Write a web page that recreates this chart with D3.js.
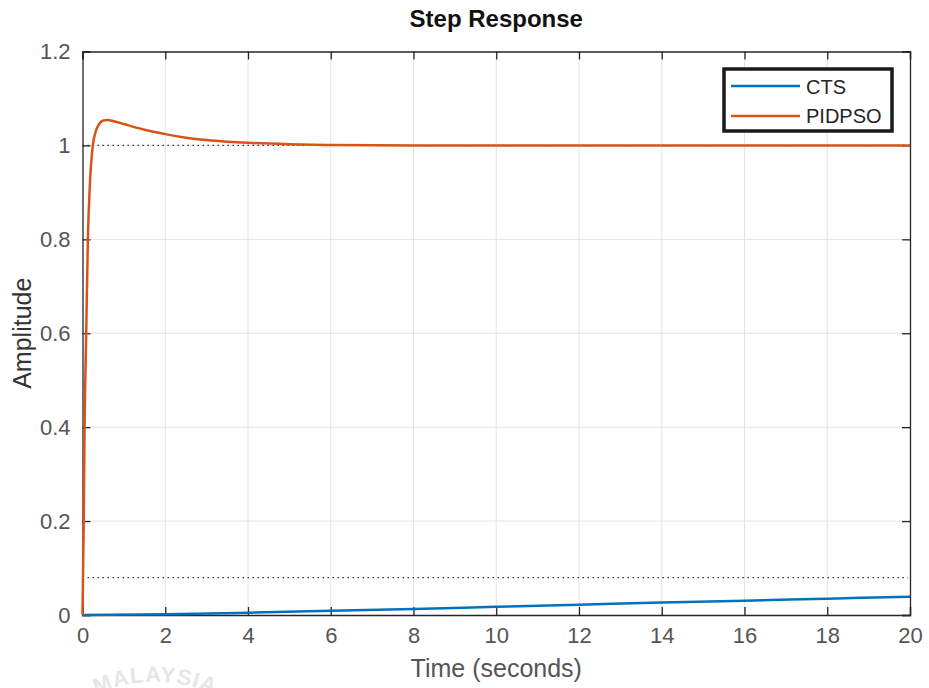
<!DOCTYPE html>
<html>
	<head>
		<title>step_response</title>
		<script type="text/javascript" src="https://cdn.jsdelivr.net/npm/d3@7"></script>
		<style>
			body{margin:0;background:#fff;}
			text{font-family:'Liberation Sans',Arial,sans-serif;}
		</style>
	</head>
	<body>
		<script type="text/javascript">
			// values
			var xTicks=[0,2,4,6,8,10,12,14,16,18,20];
			var yTicks=[0,0.2,0.4,0.6,0.8,1,1.2];
			var yTickLabels=['0','0.2','0.4','0.6','0.8','1','1.2'];

			var ctsTime=[0,2,4,6,8,10,12,14,16,18,20];
			var ctsAmp=[0,0.0015,0.005,0.009,0.013,0.0175,0.022,0.0265,0.0305,0.0348,0.039];
			var ctsFinal=0.0794;

			var pidTime=[0,0.03,0.05,0.09,0.13,0.18,0.25,0.32,0.4,0.5,0.6,0.75,1.0,1.25,1.5,1.75,2.0,2.5,3.0,3.5,4.0,5.0,6.0,8.0,20];
			var pidAmp=[0,0.2,0.4,0.6,0.8,0.92,1.0,1.03,1.045,1.053,1.054,1.0515,1.0455,1.039,1.0335,1.0285,1.024,1.0165,1.0115,1.008,1.0055,1.0025,1.001,1.0,1.0];
			var pidFinal=1;

			var seriesNames=['CTS','PIDPSO'];
			var seriesColors=['#0072BD','#D95319'];

			var w=929;
			var h=688;
			var pLeft=82.5, pRight=910, pTop=51.5, pBottom=615;
			var axisColor='#262626';

			var svg=d3.select('body').append('svg')
					  .attr('width',w)
					  .attr('height',h);

			var xScale=d3.scaleLinear()
						 .domain([0,20])
						 .range([pLeft,pRight]);
			var yScale=d3.scaleLinear()
						 .domain([0,1.2])
						 .range([pBottom,pTop]);

			// grid
			svg.selectAll('line.gx')
			   .data(xTicks.slice(1,-1))
			   .enter()
			   .append('line')
			   .attr('class','gx')
			   .attr('x1',function(d){return xScale(d);})
			   .attr('x2',function(d){return xScale(d);})
			   .attr('y1',pTop).attr('y2',pBottom)
			   .attr('stroke','#e3e3e3').attr('stroke-width',1);
			svg.selectAll('line.gy')
			   .data(yTicks.slice(1,-1))
			   .enter()
			   .append('line')
			   .attr('class','gy')
			   .attr('y1',function(d){return yScale(d);})
			   .attr('y2',function(d){return yScale(d);})
			   .attr('x1',pLeft).attr('x2',pRight)
			   .attr('stroke','#e3e3e3').attr('stroke-width',1);

			// steady state dotted lines
			svg.selectAll('line.ss')
			   .data([pidFinal,ctsFinal])
			   .enter()
			   .append('line')
			   .attr('class','ss')
			   .attr('x1',xScale(0)).attr('x2',xScale(19.95))
			   .attr('y1',function(d){return yScale(d);})
			   .attr('y2',function(d){return yScale(d);})
			   .attr('stroke','#333').attr('stroke-width',1.3)
			   .attr('stroke-dasharray','1.5,3.5');

			// axes with inner ticks on all sides
			var tl=8;
			svg.append('g').attr('transform','translate(0,'+pBottom+')')
			   .call(d3.axisBottom(xScale).tickValues(xTicks).tickSize(-tl).tickFormat(d3.format('d')).tickPadding(12));
			svg.append('g').attr('transform','translate(0,'+pTop+')')
			   .call(d3.axisTop(xScale).tickValues(xTicks).tickSize(-tl).tickFormat(''));
			svg.append('g').attr('transform','translate('+pLeft+',0)')
			   .call(d3.axisLeft(yScale).tickValues(yTicks).tickSize(-tl)
					 .tickFormat(function(d,i){return yTickLabels[i];}).tickPadding(12));
			svg.append('g').attr('transform','translate('+pRight+',0)')
			   .call(d3.axisRight(yScale).tickValues(yTicks).tickSize(-tl).tickFormat(''));

			svg.selectAll('.domain').attr('stroke',axisColor).attr('stroke-width',1.3);
			svg.selectAll('.tick line').attr('stroke',axisColor).attr('stroke-width',1.3);
			svg.selectAll('.tick text')
			   .attr('fill','#555')
			   .attr('font-size','22px')
			   .attr('font-family',"'Liberation Sans',Arial,sans-serif");

			// curves
			var line=d3.line()
					   .x(function(d){return xScale(d[0]);})
					   .y(function(d){return yScale(d[1]);})
					   .curve(d3.curveMonotoneX);

			var ctsData=ctsTime.map(function(t,i){return [t,ctsAmp[i]];});
			var pidData=pidTime.map(function(t,i){return [t,pidAmp[i]];});

			svg.append('path').datum(ctsData)
			   .attr('d',line).attr('fill','none')
			   .attr('stroke',seriesColors[0]).attr('stroke-width',2.5);
			svg.append('path').datum(pidData)
			   .attr('d',line).attr('fill','none')
			   .attr('stroke',seriesColors[1]).attr('stroke-width',2.5);

			// legend
			var lg=svg.append('g');
			lg.append('rect')
			  .attr('x',724).attr('y',69).attr('width',168).attr('height',62)
			  .attr('fill','#fff').attr('stroke','#1a1a1a').attr('stroke-width',3.5);
			lg.selectAll('line')
			  .data(seriesNames)
			  .enter()
			  .append('line')
			  .attr('x1',731).attr('x2',800)
			  .attr('y1',function(d,i){return 86+i*30;})
			  .attr('y2',function(d,i){return 86+i*30;})
			  .attr('stroke',function(d,i){return seriesColors[i];})
			  .attr('stroke-width',2.5);
			lg.selectAll('text')
			  .data(seriesNames)
			  .enter()
			  .append('text')
			  .text(function(d){return d;})
			  .attr('x',806)
			  .attr('y',function(d,i){return 94+i*29;})
			  .attr('fill','#262626')
			  .attr('font-size','20px');

			// titles
			svg.append('text')
			   .text('Step Response')
			   .attr('x',(pLeft+pRight)/2).attr('y',27)
			   .attr('text-anchor','middle')
			   .attr('font-weight','bold')
			   .attr('font-size','24px')
			   .attr('fill','#111');
			svg.append('text')
			   .text('Time (seconds)')
			   .attr('x',(pLeft+pRight)/2).attr('y',677)
			   .attr('text-anchor','middle')
			   .attr('font-size','25px')
			   .attr('fill','#555');
			svg.append('text')
			   .text('Amplitude')
			   .attr('transform','translate(31,'+((pTop+pBottom)/2)+') rotate(-90)')
			   .attr('text-anchor','middle')
			   .attr('font-size','25px')
			   .attr('fill','#333');

			// faint watermark at the bottom
			svg.append('path')
			   .attr('id','arc')
			   .attr('d','M 60 719 A 140 140 0 0 1 250 719')
			   .attr('fill','none');
			svg.append('text')
			   .attr('font-size','22px')
			   .attr('font-weight','bold')
			   .attr('letter-spacing','1px')
			   .attr('fill','#e6e6e6')
			   .append('textPath')
			   .attr('href','#arc')
			   .attr('startOffset','50%')
			   .attr('text-anchor','middle')
			   .text('MALAYSIA');
		</script>
	</body>
</html>
